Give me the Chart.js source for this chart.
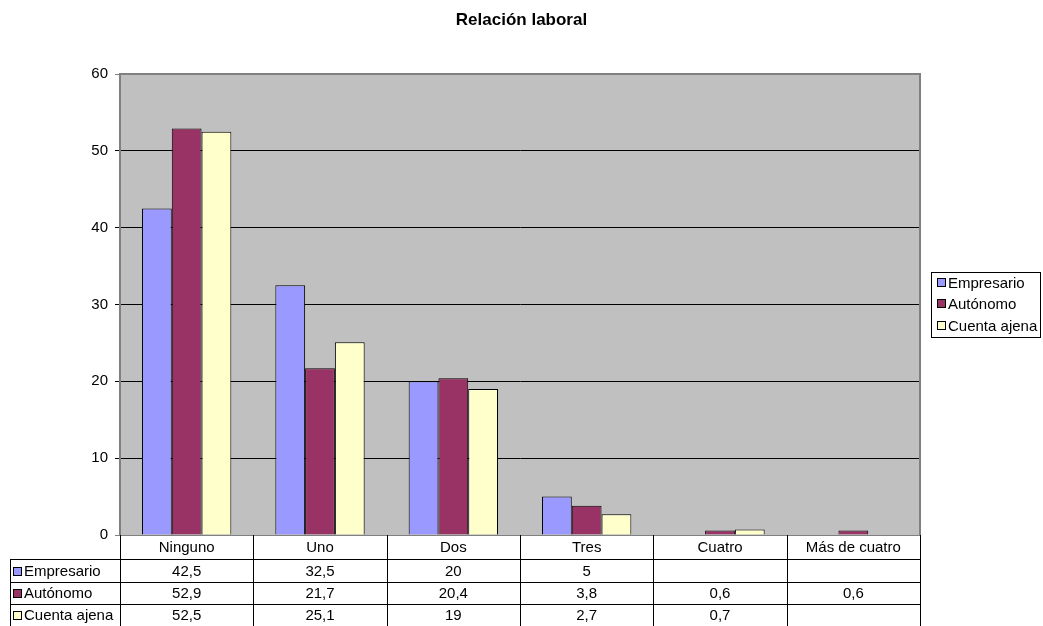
<!DOCTYPE html>
<html>
<head>
<meta charset="utf-8">
<script src="https://cdn.jsdelivr.net/npm/chart.js@4.4.1/dist/chart.umd.min.js"></script>
<style>
  html, body { margin: 0; padding: 0; background: #fff; }
  #wrap { width: 1043px; height: 626px; }
</style>
</head>
<body>
<div id="wrap"><canvas id="chart" width="1043" height="626"></canvas></div>
<script>
const categories = ['Ninguno', 'Uno', 'Dos', 'Tres', 'Cuatro', 'Más de cuatro'];
const seriesNames = ['Empresario', 'Autónomo', 'Cuenta ajena'];
const empresario = [42.5, 32.5, 20, 5, null, null];
const autonomo = [52.9, 21.7, 20.4, 3.8, 0.6, 0.6];
const cuentaAjena = [52.5, 25.1, 19, 2.7, 0.7, null];
const yTicks = [0, 10, 20, 30, 40, 50, 60];
const colors = ['#9999FF', '#993366', '#FFFFCC'];

const FAMILY = '"Liberation Sans", Arial, sans-serif';
const FONT = '15px ' + FAMILY;
const fmt = v => (v === null || v === undefined) ? '' : String(v).replace('.', ',');

// fondo gris del área de trazado
const plotBg = {
    id: 'plotBg',
    beforeDraw(chart) {
        const { ctx, chartArea: a } = chart;
        ctx.save();
        ctx.fillStyle = '#C0C0C0';
        ctx.fillRect(a.left, a.top, a.right - a.left, a.bottom - a.top);
        ctx.restore();
    },
    afterDatasetsDraw(chart) {
        const { ctx, chartArea: a } = chart;
        ctx.save();
        ctx.strokeStyle = '#808080';
        ctx.lineWidth = 2;
        ctx.beginPath();
        ctx.moveTo(a.left, a.top);
        ctx.lineTo(a.right, a.top);
        ctx.lineTo(a.right, a.bottom);
        ctx.stroke();
        ctx.restore();
    }
};

// tabla de datos debajo del gráfico + leyenda
const dataTable = {
    id: 'dataTable',
    afterDraw(chart) {
        const { ctx, chartArea: a } = chart;
        const x = chart.scales.x;
        const step = (a.right - a.left) / categories.length;
        const rowY = [a.bottom, 559, 582, 604, 626];
        const leftX = 10;
        ctx.save();
        ctx.strokeStyle = '#000';
        ctx.lineWidth = 1;
        ctx.beginPath();
        for (let i = 0; i <= categories.length; i++) {
            const bx = Math.round(a.left + i * step) + 0.5;
            ctx.moveTo(bx, a.bottom);
            ctx.lineTo(bx, 626);
        }
        ctx.moveTo(leftX + 0.5, rowY[1]);
        ctx.lineTo(leftX + 0.5, 626);
        for (let r = 1; r < rowY.length; r++) {
            ctx.moveTo(leftX, rowY[r] + 0.5);
            ctx.lineTo(a.right, rowY[r] + 0.5);
        }
        ctx.stroke();

        ctx.font = FONT;
        ctx.fillStyle = '#000';
        ctx.textBaseline = 'middle';
        ctx.textAlign = 'center';
        categories.forEach((c, i) => {
            ctx.fillText(c, x.getPixelForValue(i), (rowY[0] + rowY[1]) / 2 + 1);
        });
        const rows = [empresario, autonomo, cuentaAjena];
        rows.forEach((vals, r) => {
            const cy = (rowY[r + 1] + rowY[r + 2]) / 2 + 1;
            ctx.textAlign = 'center';
            vals.forEach((v, i) => ctx.fillText(fmt(v), x.getPixelForValue(i), cy));
            ctx.fillStyle = colors[r];
            ctx.fillRect(13.5, Math.round(cy) - 4.5, 8, 8);
            ctx.strokeRect(13.5, Math.round(cy) - 4.5, 8, 8);
            ctx.fillStyle = '#000';
            ctx.textAlign = 'left';
            ctx.fillText(seriesNames[r], 24, cy);
        });

        // leyenda
        ctx.fillStyle = '#fff';
        ctx.fillRect(931.5, 272.5, 109, 65);
        ctx.strokeRect(931.5, 272.5, 109, 65);
        const legY = [283, 304, 326];
        seriesNames.forEach((n, i) => {
            ctx.fillStyle = colors[i];
            ctx.fillRect(937.5, legY[i] - 4.5, 8, 8);
            ctx.strokeRect(937.5, legY[i] - 4.5, 8, 8);
            ctx.fillStyle = '#000';
            ctx.textAlign = 'left';
            ctx.fillText(n, 948, legY[i] + 1);
        });
        ctx.restore();
    }
};

const datasets = [empresario, autonomo, cuentaAjena].map((d, i) => ({
    label: seriesNames[i],
    data: d,
    backgroundColor: colors[i],
    borderColor: '#000',
    borderWidth: 1,
    borderSkipped: 'bottom',
    categoryPercentage: 0.67,
    barPercentage: 1.0
}));

new Chart(document.getElementById('chart'), {
    type: 'bar',
    data: { labels: categories, datasets },
    options: {
        responsive: false,
        animation: false,
        layout: { padding: { left: 0, right: 0, top: 0, bottom: 91 } },
        plugins: {
            legend: { display: false },
            tooltip: { enabled: false },
            title: {
                display: true,
                text: 'Relación laboral',
                color: '#000',
                font: { family: FAMILY, size: 17, weight: 'bold' },
                padding: { top: 10, bottom: 43.6 }
            }
        },
        scales: {
            x: { display: false },
            y: {
                min: 0, max: 60,
                afterFit(scale) { scale.width = 120; },
                afterBuildTicks(scale) { scale.ticks = yTicks.map(v => ({ value: v })); },
                ticks: {
                    color: '#000',
                    padding: 7,
                    font: { family: FAMILY, size: 15 }
                },
                grid: {
                    color: ctx => (ctx.tick && (ctx.tick.value === 0 || ctx.tick.value === 60)) ? '#808080' : '#000',
                    tickLength: 5,
                    drawTicks: true
                },
                border: { color: '#808080', width: 2 }
            },
            // eje vacío a la derecha: reserva el hueco de la leyenda
            yRight: {
                position: 'right',
                min: 0, max: 60,
                afterFit(scale) { scale.width = 123; },
                ticks: { display: false },
                grid: { display: false, drawTicks: false },
                border: { display: false }
            }
        }
    },
    plugins: [plotBg, dataTable]
});
</script>
</body>
</html>
